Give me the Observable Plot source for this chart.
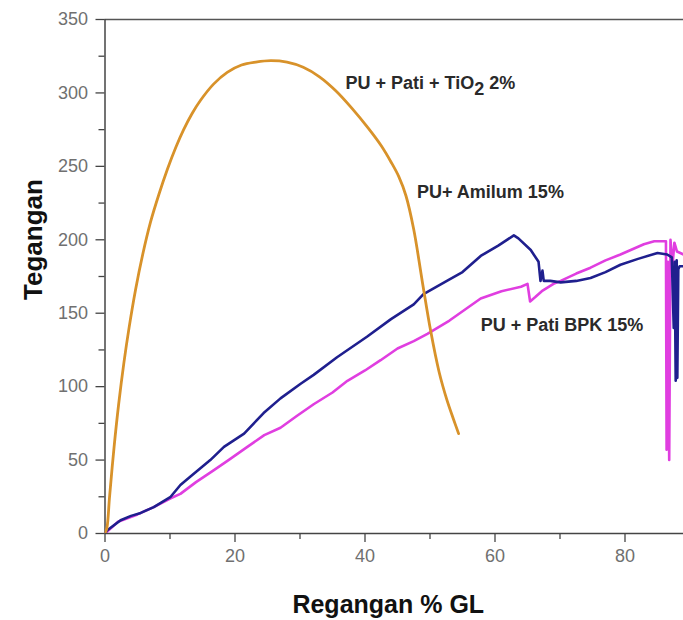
<!DOCTYPE html>
<html><head><meta charset="utf-8">
<script src="https://cdn.jsdelivr.net/npm/d3@7"></script>
<script src="https://cdn.jsdelivr.net/npm/@observablehq/plot@0.6"></script>
<style>html,body{margin:0;padding:0;background:#fff} #chart svg{display:block}</style>
</head><body><div id="chart"></div>
<script>
// PU + Pati + TiO2 2%
const tioX = [0, 0.3, 0.7, 1.4, 2.1, 2.9, 3.7, 4.7, 5.8, 7.0, 8.3, 9.6, 10.9, 12.1, 13.4, 14.7, 16.7, 18.8, 21.0, 23.2, 25.5, 28.0, 30.5, 33.0, 35.5, 38.0, 40.5, 42.5, 44.0, 45.2, 46.3, 47.5, 48.8, 50.1, 51.4, 52.6, 53.6, 54.4];
const tioY = [0, 4, 25, 59, 88, 116, 140, 166, 190, 212, 231, 248, 263, 275, 286, 295, 306, 314, 319, 321, 322, 321, 317.5, 311, 301.5, 289.5, 276, 264, 253, 243, 230, 207, 172, 138, 110, 91, 78, 68];
// PU + Amilum 15%
const amilumX = [0, 0.3, 2.4, 4.0, 5.5, 7.5, 10.1, 11.6, 13.2, 16.2, 18.3, 21.4, 24.4, 27.0, 30.1, 32.1, 35.7, 40.3, 44.0, 47.5, 49.0, 52.6, 55.0, 57.8, 60.5, 62.9, 63.6, 65.5, 66.7, 67.0, 67.3, 67.5, 68.5, 70.1, 72.5, 74.7, 77.0, 79.3, 82.0, 85.0, 86.5, 87.2, 87.5, 87.65, 87.8, 87.95, 88.05, 88.2, 88.4, 89.0];
const amilumY = [0, 2, 9, 12, 14, 18, 25, 33, 39, 50, 59, 68, 82, 92, 102, 108, 120, 134, 146, 156, 163, 172, 178, 189, 196, 203, 201, 193, 185, 172, 179, 172, 172, 171, 172, 174, 178, 183, 187, 191, 190, 188, 140, 185, 104, 186, 106, 180, 182, 182];
// PU + Pati BPK 15%
const bpkX = [0, 2.0, 5.0, 7.5, 10.1, 11.6, 14.0, 16.7, 19.0, 21.9, 24.5, 27.0, 29.5, 32.1, 35.0, 37.3, 40.0, 42.4, 45.0, 47.5, 49.6, 53.0, 57.8, 61.0, 64.0, 65.0, 65.4, 66.2, 67.2, 69.0, 70.1, 72.5, 74.7, 77.0, 79.3, 82.9, 84.5, 86.3, 86.4, 86.6, 86.8, 87.0, 87.3, 87.6, 88.0, 89.0];
const bpkY = [0, 8, 13, 18, 24, 27, 35, 43, 50, 59, 67, 72, 80, 88, 96, 104, 111, 118, 126, 131, 136, 145, 160, 165, 168, 170, 158, 161, 165, 170, 172, 177, 181, 186, 190, 197, 199, 199, 57, 185, 50, 200, 182, 198, 192, 190];

const seriesNames = ["PU + Pati + TiO₂ 2%", "PU+ Amilum 15%", "PU + Pati BPK 15%"];
const seriesColors = ["#d8922a", "#1f1f8e", "#e03ee0"];
const labelX = [37.0, 48.0, 57.8];
const labelY = [306.6, 232.4, 141.6];

const xMajor = [0, 20, 40, 60, 80];
const xMinor = [10, 30, 50, 70];
const yMajor = [0, 50, 100, 150, 200, 250, 300, 350];
const yMinor = [25, 75, 125, 175, 225, 275, 325];

const toRows = (xs, ys) => xs.map((x, i) => ({x, y: ys[i]}));
const tio = toRows(tioX, tioY);
const amilum = toRows(amilumX, amilumY);
const bpk = toRows(bpkX, bpkY);
const labels = seriesNames.map((t, i) => ({t, x: labelX[i], y: labelY[i]}));

const font = "'Liberation Sans', Arial, Helvetica, sans-serif";

const plot = Plot.plot({
  width: 683,
  height: 620,
  marginLeft: 104.5,
  marginRight: 0,
  marginTop: 19,
  marginBottom: 87,
  style: {fontFamily: font, fontSize: "18px", background: "#fff", overflow: "hidden"},
  x: {domain: [0, 89], label: null},
  y: {domain: [0, 350], label: null},
  marks: [
    Plot.ruleY([350], {stroke: "#555", strokeWidth: 1.5}),
    Plot.axisX({ticks: xMinor, tickSize: 6, tickFormat: () => "", stroke: "#444", strokeWidth: 1.3}),
    Plot.axisX({ticks: xMajor, tickSize: 9, tickPadding: 7, stroke: "#444", strokeWidth: 1.3, fill: "#707070", fontSize: 18}),
    Plot.axisY({ticks: yMinor, tickSize: 6, tickFormat: () => "", stroke: "#444", strokeWidth: 1.3}),
    Plot.axisY({ticks: yMajor, tickSize: 9, tickPadding: 8, stroke: "#444", strokeWidth: 1.3, fill: "#707070", fontSize: 18}),
    Plot.ruleX([0], {stroke: "#444", strokeWidth: 1.5}),
    Plot.ruleY([0], {stroke: "#444", strokeWidth: 1.5}),
    Plot.line(bpk, {x: "x", y: "y", stroke: seriesColors[2], strokeWidth: 2.6, clip: true}),
    Plot.line(amilum, {x: "x", y: "y", stroke: seriesColors[1], strokeWidth: 2.6, clip: true}),
    Plot.line(tio, {x: "x", y: "y", stroke: seriesColors[0], strokeWidth: 2.8, curve: "catmull-rom", clip: true}),
    Plot.text(labels, {x: "x", y: "y", text: "t", textAnchor: "start", lineAnchor: "middle", fontSize: 18, fontWeight: "bold", fill: "#2a2a2a"}),
    Plot.text(["Tegangan"], {frameAnchor: "left", textAnchor: "middle", lineAnchor: "middle", dx: -71, dy: -37, rotate: -90, fontSize: 26, fontWeight: "bold", fill: "#111"}),
    Plot.text(["Regangan % GL"], {frameAnchor: "bottom", textAnchor: "middle", lineAnchor: "middle", dx: -6, dy: 71, fontSize: 25, fontWeight: "bold", fill: "#111"})
  ]
});

// render the TiO2 subscript as a real subscript
plot.querySelectorAll("text").forEach(el => {
  if (el.textContent === seriesNames[0]) {
    el.textContent = "";
    const ns = "http://www.w3.org/2000/svg";
    const a = document.createElementNS(ns, "tspan"); a.textContent = "PU + Pati + TiO";
    const b = document.createElementNS(ns, "tspan"); b.textContent = "2"; b.setAttribute("dy", "6");
    const c = document.createElementNS(ns, "tspan"); c.textContent = " 2%"; c.setAttribute("dy", "-6");
    el.append(a, b, c);
  }
});

document.getElementById("chart").append(plot);
</script>
</body></html>
